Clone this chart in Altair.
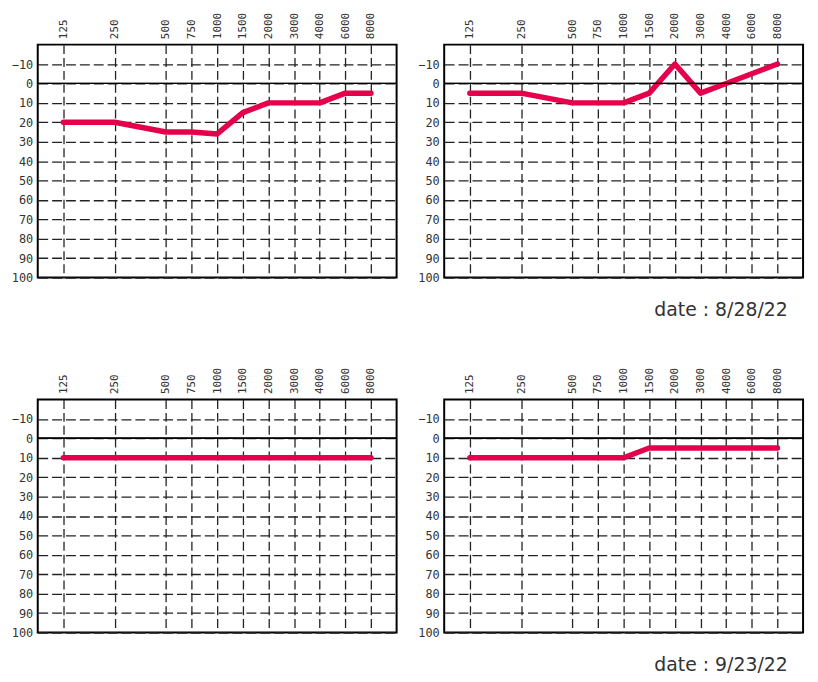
import math
import altair as alt
import pandas as pd

# Frequencies (Hz) and hearing levels (dB)
freqs = [125, 250, 500, 750, 1000, 1500, 2000, 3000, 4000, 6000, 8000]
panel1 = [20, 20, 25, 25, 26, 15, 10, 10, 10, 5, 5]
panel2 = [5, 5, 10, 10, 10, 5, -10, 5, 0, -5, -10]
panel3 = [10, 10, 10, 10, 10, 10, 10, 10, 10, 10, 10]
panel4 = [10, 10, 10, 10, 10, 5, 5, 5, 5, 5, 5]
dates = ["", "date : 8/28/22", "", "date : 9/23/22"]
db_ticks = [-10, 0, 10, 20, 30, 40, 50, 60, 70, 80, 90, 100]

# audiogram spacing: half-octave steps from 125 Hz
pos = [round(2 * math.log2(f / 125)) for f in freqs]
lab_arr = [""] * (max(pos) + 1)
for p, f in zip(pos, freqs):
    lab_arr[p] = str(f)
label_expr = "[" + ",".join("'%s'" % s for s in lab_arr) + "][datum.value]"

RED = "#e5004c"
GRID = "#222222"


def panel(values, date):
    df = pd.DataFrame({"pos": pos, "freq": freqs, "db": values})
    x = alt.X(
        "pos:Q",
        scale=alt.Scale(domain=[-1, max(pos) + 1], nice=False, zero=False),
        axis=alt.Axis(
            orient="top", values=pos, tickCount=len(pos) + 5, labelExpr=label_expr,
            labelAngle=270, labelAlign="left", labelBaseline="middle", labelPadding=6,
            labelOverlap=False, labelFlush=False,
            grid=True, gridDash=[9, 4], gridColor=GRID, gridWidth=1.3, gridOpacity=1,
            ticks=False, domain=False, title=None,
            labelFont="DejaVu Sans Mono", labelFontSize=11, labelColor="#333333",
        ),
    )
    y = alt.Y(
        "db:Q",
        scale=alt.Scale(domain=[-20, 100], reverse=True, nice=False, zero=False),
        axis=alt.Axis(
            values=db_ticks, tickCount=len(db_ticks) + 5, grid=True, gridDash=[10, 4],
            gridColor=GRID, gridWidth=1.3, gridOpacity=1, ticks=False, domain=False,
            title=None, labelOverlap=False, labelFlush=False,
            labelPadding=5, labelFont="DejaVu Sans Mono", labelFontSize=12,
            labelColor="#333333", format="d",
        ),
    )
    base = alt.Chart(df)
    zero = base.mark_rule(color="black", strokeWidth=1).encode(
        y=alt.datum(0, type="quantitative")
    )
    line = base.mark_line(color=RED, strokeWidth=5.5, strokeJoin="round", strokeCap="round").encode(
        x=x, y=y
    )
    ch = alt.layer(line, zero).properties(width=362, height=235)
    if date:
        ch = ch.properties(
            title=alt.TitleParams(
                date, orient="bottom", anchor="end", font="DejaVu Sans",
                fontSize=19, fontWeight="normal", color="#333333", dx=-16, offset=18,
            )
        )
    return ch


chart = (
    alt.concat(
        panel(panel1, dates[0]), panel(panel2, dates[1]),
        panel(panel3, dates[2]), panel(panel4, dates[3]),
        columns=2, spacing={"row": 123, "column": 48}, bounds="flush",
    )
    .configure_view(stroke="black", strokeWidth=2)
    .properties(padding={"left": 2, "top": 0, "right": 5, "bottom": 5})
)

chart.save("out.html", embed_options={"renderer": "svg", "actions": False})
